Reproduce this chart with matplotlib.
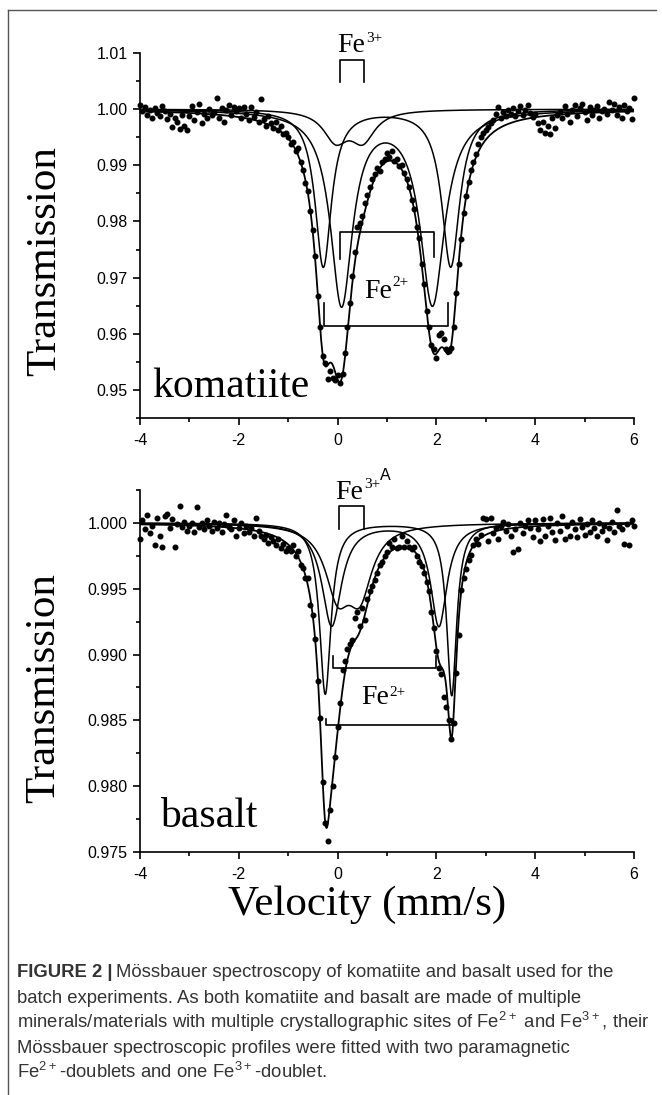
import numpy as np
import matplotlib.pyplot as plt
from matplotlib.lines import Line2D
from matplotlib.ticker import MultipleLocator, FormatStrFormatter

plt.rcParams['font.family'] = ['Liberation Sans', 'DejaVu Sans']
plt.rcParams['mathtext.fontset'] = 'custom'
plt.rcParams['mathtext.rm'] = 'Liberation Sans'
plt.rcParams['axes.unicode_minus'] = False

SERIF = ['Liberation Serif', 'DejaVu Serif']

# channel velocities (mm/s), 0.05 mm/s steps
velocity = np.linspace(-4, 6, 201)

kom_transmission = [
    1.0008, 0.9996, 1.0003, 0.9990, 0.9998, 0.9985, 1.0002, 0.9994, 0.9988, 1.0006,
    0.9997, 0.9982, 0.9992, 0.9968, 0.9985, 0.9978, 0.9965, 0.9990, 0.9970, 0.9962,
    0.9988, 1.0005, 0.9980, 0.9995, 1.0010, 0.9975, 0.9992, 0.9985, 1.0001, 0.9990,
    0.9995, 1.0020, 0.9985, 1.0002, 0.9978, 0.9998, 1.0008, 0.9990, 1.0003, 0.9996,
    1.0002, 0.9985, 1.0004, 0.9992, 0.9981, 1.0003, 0.9986, 0.9995, 0.9978, 1.0018,
    0.9982, 0.9970, 0.9988, 0.9975, 0.9966, 0.9978, 0.9962, 0.9970, 0.9955, 0.9958,
    0.9950, 0.9938, 0.9942, 0.9925, 0.9930, 0.9905, 0.9892, 0.9868, 0.9855, 0.9818,
    0.9785, 0.9738, 0.9668, 0.9612, 0.9560, 0.9548, 0.9520, 0.9533, 0.9522, 0.9518,
    0.9526, 0.9512, 0.9528, 0.9566, 0.9612, 0.9655, 0.9702, 0.9745, 0.9790, 0.9797,
    0.9810, 0.9832, 0.9848, 0.9862, 0.9875, 0.9884, 0.9896, 0.9890, 0.9905, 0.9912,
    0.9922, 0.9915, 0.9925, 0.9908, 0.9912, 0.9898, 0.9900, 0.9886, 0.9875, 0.9862,
    0.9838, 0.9822, 0.9790, 0.9770, 0.9725, 0.9688, 0.9640, 0.9612, 0.9580, 0.9572,
    0.9556, 0.9598, 0.9602, 0.9590, 0.9572, 0.9569, 0.9575, 0.9612, 0.9672, 0.9725,
    0.9768, 0.9815, 0.9845, 0.9870, 0.9892, 0.9905, 0.9920, 0.9938, 0.9950, 0.9958,
    0.9962, 0.9968, 0.9975, 0.9980, 0.9992, 1.0004, 0.9985, 0.9995, 0.9988, 0.9998,
    0.9992, 1.0002, 0.9988, 0.9996, 1.0005, 0.9990, 0.9998, 1.0008, 0.9994, 0.9986,
    0.9992, 0.9975, 0.9962, 0.9978, 0.9958, 0.9970, 0.9955, 0.9985, 0.9966, 0.9990,
    0.9995, 0.9985, 1.0005, 0.9992, 0.9978, 0.9998, 1.0008, 0.9988, 1.0002, 1.0010,
    0.9995, 0.9980, 1.0003, 0.9990, 0.9998, 1.0006, 0.9985, 0.9996, 1.0001, 0.9992,
    1.0012, 0.9998, 1.0010, 0.9990, 1.0004, 0.9985, 1.0008, 0.9996, 1.0002, 0.9982,
    1.0020,
]

bas_transmission = [
    0.9988, 1.0002, 0.9995, 1.0006, 0.9992, 0.9998, 0.9983, 1.0004, 0.9990, 0.9982,
    1.0005, 1.0007, 0.9996, 1.0003, 0.9982, 0.9999, 1.0013, 0.9997, 1.0001, 0.9994,
    0.9998, 1.0000, 0.9993, 1.0012, 0.9997, 1.0000, 0.9995, 1.0002, 0.9998, 0.9994,
    1.0001, 0.9996, 1.0000, 0.9993, 0.9999, 1.0006, 0.9997, 0.9995, 1.0002, 0.9990,
    0.9996, 1.0000, 0.9992, 0.9998, 0.9993, 0.9996, 0.9990, 1.0004, 0.9994, 0.9990,
    0.9988, 0.9991, 0.9985, 0.9989, 0.9986, 0.9983, 0.9988, 0.9981, 0.9984, 0.9979,
    0.9981, 0.9979, 0.9983, 0.9975, 0.9979, 0.9968, 0.9966, 0.9958, 0.9958, 0.9938,
    0.9930, 0.9912, 0.9880, 0.9852, 0.9803, 0.9772, 0.9758, 0.9782, 0.9800, 0.9822,
    0.9845, 0.9863, 0.9888, 0.9895, 0.9904, 0.9908, 0.9911, 0.9928, 0.9932, 0.9922,
    0.9935, 0.9926, 0.9942, 0.9948, 0.9952, 0.9957, 0.9962, 0.9968, 0.9970, 0.9975,
    0.9978, 0.9985, 0.9982, 0.9988, 0.9981, 0.9982, 0.9990, 0.9982, 0.9986, 0.9982,
    0.9980, 0.9982, 0.9975, 0.9970, 0.9967, 0.9962, 0.9955, 0.9948, 0.9932, 0.9920,
    0.9903, 0.9890, 0.9885, 0.9868, 0.9860, 0.9850, 0.9836, 0.9848, 0.9886, 0.9915,
    0.9949, 0.9958, 0.9965, 0.9972, 0.9976, 0.9983, 0.9988, 0.9984, 0.9991, 1.0004,
    1.0003, 0.9986, 1.0004, 0.9992, 0.9996, 0.9988, 0.9998, 1.0001, 0.9994, 0.9999,
    0.9990, 0.9978, 0.9995, 0.9980, 1.0000, 0.9992, 0.9998, 1.0002, 0.9996, 0.9989,
    1.0002, 0.9995, 0.9986, 1.0003, 0.9990, 0.9998, 1.0004, 0.9993, 0.9987, 1.0000,
    0.9994, 1.0005, 0.9988, 0.9998, 0.9990, 1.0001, 0.9995, 0.9989, 1.0003, 0.9997,
    0.9991, 0.9999, 0.9993, 1.0002, 0.9996, 0.9990, 1.0000, 0.9994, 0.9998, 0.9987,
    0.9996, 1.0001, 0.9993, 1.0010, 0.9998, 0.9995, 0.9984, 0.9999, 0.9983, 1.0002,
    0.9998,
]

# fitted doublets: line positions (mm/s), depths, half widths
kom_fe2a_pos, kom_fe2a_depth, kom_fe2a_hw = [-0.29, 2.29], [0.028, 0.028], [0.20, 0.22]
kom_fe2b_pos, kom_fe2b_depth, kom_fe2b_hw = [0.08, 1.92], [0.0344, 0.0344], [0.27, 0.30]
kom_fe3_pos, kom_fe3_depth, kom_fe3_hw = [-0.04, 0.51], [0.0052, 0.0052], [0.30, 0.30]

bas_fe2a_pos, bas_fe2a_depth, bas_fe2a_hw = [-0.25, 2.31], [0.013, 0.0131], [0.14, 0.12]
bas_fe2b_pos, bas_fe2b_depth, bas_fe2b_hw = [-0.12, 2.05], [0.0078, 0.0078], [0.24, 0.20]
bas_fe3_pos, bas_fe3_depth, bas_fe3_hw = [0.0, 0.45], [0.0049, 0.0049], [0.30, 0.30]


def doublet(v, pos, depth, hw):
    out = np.zeros_like(v)
    for p, d, w in zip(pos, depth, hw):
        out += d / (1 + ((v - p) / w) ** 2)
    return out


def panel(ax, trans, doublets, ylim, minor, fmt, yticks):
    v = np.linspace(-4, 6, 1201)
    parts = [doublet(v, *d) for d in doublets]
    for p in parts:
        ax.plot(v, 1 - p, color='black', lw=1.1, zorder=2)
    ax.plot(v, 1 - sum(parts), color='black', lw=1.3, zorder=2)
    ax.plot(velocity, trans, 'o', color='black', ms=3.3, zorder=3, clip_on=False)

    ax.set_xlim(-4, 6)
    ax.set_ylim(*ylim)
    ax.xaxis.set_major_locator(MultipleLocator(2))
    ax.xaxis.set_minor_locator(MultipleLocator(1))
    ax.set_yticks(yticks)
    ax.yaxis.set_minor_locator(MultipleLocator(minor))
    ax.yaxis.set_major_formatter(FormatStrFormatter(fmt))
    for s in ['top', 'right']:
        ax.spines[s].set_visible(False)
    for s in ['left', 'bottom']:
        ax.spines[s].set_linewidth(1.2)
    ax.tick_params(which='major', direction='out', length=5, width=1.2,
                   labelsize=11.5, pad=4)
    ax.tick_params(which='minor', direction='out', length=3, width=1.2)
    ax.tick_params(axis='x', which='major', pad=6)
    ax.set_ylabel('Transmission', family=SERIF, fontsize=31)


def bracket(ax, xs, ys):
    ax.plot(xs, ys, color='black', lw=1.2, clip_on=False, zorder=4)


def fe_label(ax, x, y, charge, y_sup):
    ax.text(x, y, 'Fe', family=SERIF, fontsize=20, va='baseline', ha='left',
            clip_on=False)
    ax.text(x + 0.57, y_sup, charge, family=SERIF, fontsize=11, va='top',
            ha='left', clip_on=False)


fig = plt.figure(figsize=(6.62, 10.95), dpi=100)
W, H = 662, 1095
ax1 = fig.add_axes([140 / W, 1 - 418 / H, 494 / W, 365 / H])
ax2 = fig.add_axes([140 / W, 1 - 852 / H, 494 / W, 362 / H])

panel(ax1, kom_transmission,
      [(kom_fe2a_pos, kom_fe2a_depth, kom_fe2a_hw),
       (kom_fe2b_pos, kom_fe2b_depth, kom_fe2b_hw),
       (kom_fe3_pos, kom_fe3_depth, kom_fe3_hw)],
      (0.945, 1.01), 0.005, '%.2f',
      [0.95, 0.96, 0.97, 0.98, 0.99, 1.00, 1.01])
panel(ax2, bas_transmission,
      [(bas_fe2a_pos, bas_fe2a_depth, bas_fe2a_hw),
       (bas_fe2b_pos, bas_fe2b_depth, bas_fe2b_hw),
       (bas_fe3_pos, bas_fe3_depth, bas_fe3_hw)],
      (0.975, 1.0025), 0.0025, '%.3f',
      [0.975, 0.980, 0.985, 0.990, 0.995, 1.000])

ax1.yaxis.set_label_coords(-0.192, 0.43)
ax2.yaxis.set_label_coords(-0.194, 0.453)
for a in (ax1, ax2):
    a.yaxis.label.set_va('center')

ax2.set_xlabel('Velocity (mm/s)', family=SERIF, fontsize=31)
ax2.xaxis.set_label_coords(0.46, -0.146)
ax2.xaxis.label.set_va('center')

# sample names
ax1.text(-3.76, 0.9488, 'komatiite', family=SERIF, fontsize=30, va='baseline')
ax2.text(-3.6, 0.97687, 'basalt', family=SERIF, fontsize=30, va='baseline')

# komatiite site markers
fe_label(ax1, 0.0, 1.0101, '3+', 1.0137)
bracket(ax1, [0.04, 0.04, 0.53, 0.53], [1.0049, 1.0087, 1.0087, 1.0049])
fe_label(ax1, 0.53, 0.9663, '2+', 0.9702)
bracket(ax1, [0.04, 0.04, 1.96, 1.96], [0.9734, 0.9781, 0.9781, 0.9737])
bracket(ax1, [-0.275, -0.275, 2.235, 2.235], [0.9654, 0.9613, 0.9613, 0.9654])

# basalt site markers
fe_label(ax2, -0.04, 1.0018, '3+', 1.0034)
ax2.text(0.86, 1.0042, 'A', fontsize=11.5, va='top', ha='left', clip_on=False)
bracket(ax2, [0.03, 0.03, 0.54, 0.54], [0.99952, 1.00129, 1.00129, 0.99952])
fe_label(ax2, 0.47, 0.98621, '2+', 0.9876)
bracket(ax2, [-0.09, -0.09, 2.0, 2.0], [0.98988, 0.98899, 0.98899, 0.98988])
bracket(ax2, [-0.24, -0.24, 2.32, 2.32], [0.98513, 0.98462, 0.98462, 0.98513])

# frame
fig.add_artist(Line2D([8 / W, 8 / W], [0, 1 - 10 / H], color='#555555', lw=1.0))
fig.add_artist(Line2D([8 / W, 656 / W], [1 - 10 / H, 1 - 10 / H], color='#555555', lw=1.0))

# caption
cap_color = '#333333'
cap_size = 13.3
x0 = 17 / W
lines = [
    'batch experiments. As both komatiite and basalt are made of multiple',
    'minerals/materials with multiple crystallographic sites of Fe$^{2+}$ and Fe$^{3+}$, their',
    'Mössbauer spectroscopic profiles were fitted with two paramagnetic',
    'Fe$^{2+}$-doublets and one Fe$^{3+}$-doublet.',
]
bold = fig.text(x0, 1 - 977 / H, 'FIGURE 2 |', fontsize=cap_size, weight='bold',
                color=cap_color, va='baseline')
fig.canvas.draw()
bb = bold.get_window_extent()
fig.text(bb.x1 / W + 4 / W, 1 - 977 / H,
         'Mössbauer spectroscopy of komatiite and basalt used for the',
         fontsize=cap_size, color=cap_color, va='baseline')
for i, line in enumerate(lines):
    fig.text(x0, 1 - (1003 + 25 * i) / H, line, fontsize=cap_size,
             color=cap_color, va='baseline')

fig.savefig('out.png', dpi=100)
